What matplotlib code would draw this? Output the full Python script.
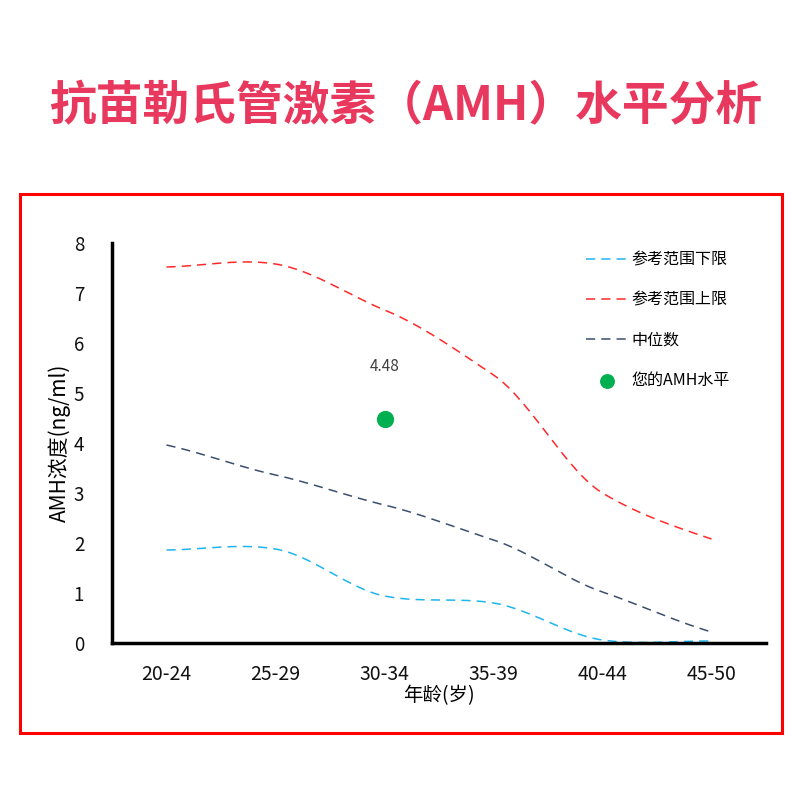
import numpy as np
import matplotlib
matplotlib.use("Agg")
import matplotlib.pyplot as plt
from matplotlib.patches import Rectangle

plt.rcParams['font.family'] = ['Noto Sans CJK SC', 'DejaVu Sans']

categories = ["20-24", "25-29", "30-34", "35-39", "40-44", "45-50"]
lower = [1.86, 1.88, 0.94, 0.80, 0.06, 0.04]
upper = [7.52, 7.58, 6.66, 5.36, 3.00, 2.08]
median = [3.96, 3.36, 2.76, 2.06, 1.02, 0.22]
user_cat = 2
user_val = 4.48

title = "抗苗勒氏管激素（AMH）水平分析"
names = ["参考范围下限", "参考范围上限", "中位数", "您的AMH水平"]
colors = ["#1FB5F0", "#FF2A2A", "#3A4F6E", "#00B050"]


def smooth(y, n=30):
    # Catmull-Rom style smoothing of the line between given points
    y = np.asarray(y, float)
    x = np.arange(len(y), dtype=float)
    xs, ys = [], []
    for i in range(len(y) - 1):
        p0 = y[i - 1] if i > 0 else y[i]
        p1, p2 = y[i], y[i + 1]
        p3 = y[i + 2] if i + 2 < len(y) else y[i + 1]
        t = np.linspace(0, 1, n, endpoint=(i == len(y) - 2))
        m1 = (p2 - p0) / (2 if i > 0 else 1)
        m2 = (p3 - p1) / (2 if i + 2 < len(y) else 1)
        h00 = 2 * t**3 - 3 * t**2 + 1
        h10 = t**3 - 2 * t**2 + t
        h01 = -2 * t**3 + 3 * t**2
        h11 = t**3 - t**2
        ys.append(h00 * p1 + h10 * m1 * 0.8 + h01 * p2 + h11 * m2 * 0.8)
        xs.append(x[i] + t)
    return np.concatenate(xs), np.concatenate(ys)


fig = plt.figure(figsize=(8, 8), dpi=100)
fig.patch.set_facecolor("white")

fig.text(406 / 800, 1 - 106 / 800, title, ha="center", va="center",
         fontsize=33.7, fontweight="bold", color="#E8385E")

fig.add_artist(Rectangle((20 / 800, 1 - 733 / 800), 762 / 800, 539 / 800,
                         transform=fig.transFigure, fill=False,
                         edgecolor="#FF0000", linewidth=2.2))

ax = fig.add_axes([112 / 800, 1 - 643 / 800, 654 / 800, 400 / 800])
ax.set_xlim(-0.5, 5.5)
ax.set_ylim(0, 8)

for data, c, lab in zip([lower, upper, median], colors[:3], names[:3]):
    xs, ys = smooth(data)
    ax.plot(xs, ys, linestyle=(0, (6, 4)), color=c, linewidth=1.1, label=lab)

ax.scatter([user_cat], [user_val], s=130, color=colors[3], zorder=5, label=names[3])
ax.annotate(f"{user_val:.2f}", (user_cat, user_val), xytext=(0, 38),
            textcoords="offset points", ha="center", va="center",
            fontsize=11, color="#404040")

ax.set_xticks(range(len(categories)))
ax.set_xticklabels(categories)
ax.set_yticks(range(0, 9))
ax.tick_params(axis="both", length=0, colors="#111111")
ax.tick_params(axis="x", pad=15, labelsize=14)
ax.tick_params(axis="y", pad=20, labelsize=13.5)

for s in ["top", "right"]:
    ax.spines[s].set_visible(False)
for s in ["left", "bottom"]:
    ax.spines[s].set_linewidth(2.5)
    ax.spines[s].set_color("#000000")

ax.set_xlabel("年龄(岁)", fontsize=14, labelpad=0)
ax.set_ylabel("AMH浓度(ng/ml)", fontsize=15, labelpad=2)

leg = ax.legend(loc="upper left", bbox_to_anchor=(572 / 800, 1 - 237 / 800),
                bbox_transform=fig.transFigure, frameon=False,
                fontsize=11.5, handlelength=2.6, labelspacing=1.45,
                handletextpad=0.2, markerscale=0.85)

fig.savefig("out.png", dpi=100, facecolor="white")
